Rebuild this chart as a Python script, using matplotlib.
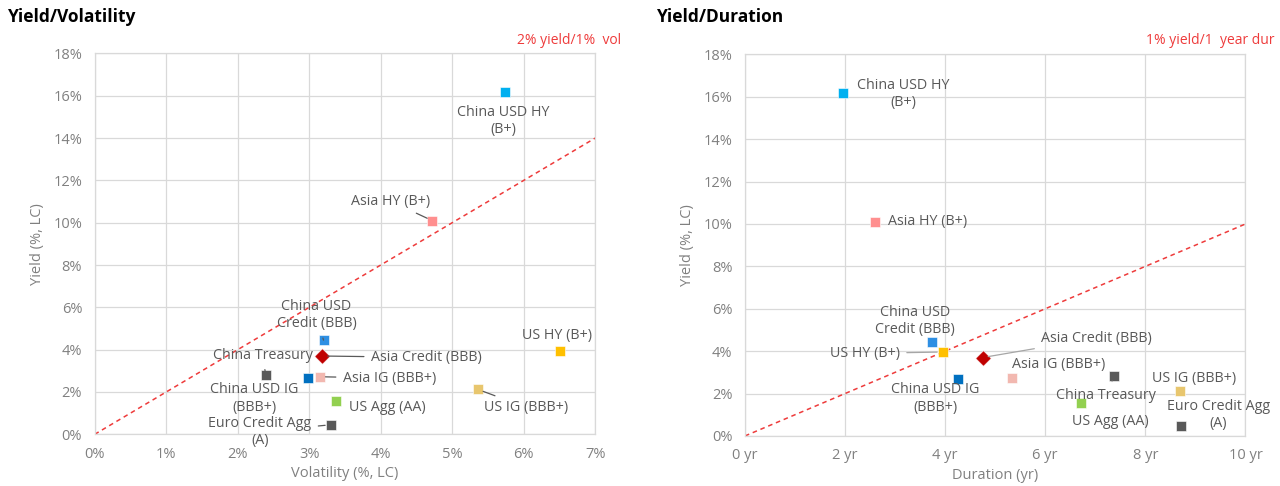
"""Yield vs volatility and yield vs duration scatter for bond indices."""
import matplotlib.pyplot as plt

plt.rcParams['font.family'] = ['Open Sans', 'DejaVu Sans']

assets = ["China USD HY\n(B+)", "Asia HY (B+)", "China USD\nCredit (BBB)",
          "Asia Credit (BBB)", "China USD IG\n(BBB+)", "Asia IG (BBB+)",
          "China Treasury", "US Agg (AA)", "Euro Credit Agg\n(A)",
          "US HY (B+)", "US IG (BBB+)"]
yields = [16.2, 10.1, 4.45, 3.7, 2.68, 2.72, 2.82, 1.55, 0.45, 3.96, 2.12]
volatility = [5.74, 4.72, 3.20, 3.18, 2.99, 3.15, 2.39, 3.38, 3.30, 6.51, 5.36]
duration = [1.95, 2.6, 3.73, 4.75, 4.25, 5.33, 7.38, 6.72, 8.71, 3.95, 8.70]
colors = ['#00B0F0', '#FF8F8F', '#2E8FE3', '#C00000', '#0070C0', '#F2B8B0',
          '#595959', '#92D050', '#595959', '#FFC000', '#E8C66E']
markers = ['s', 's', 's', 'D', 's', 's', 's', 's', 's', 's', 's']

vol_ticks = [0, 1, 2, 3, 4, 5, 6, 7]
dur_ticks = [0, 2, 4, 6, 8, 10]
yield_ticks = [0, 2, 4, 6, 8, 10, 12, 14, 16, 18]

# label offsets in points (dx, dy, leader line?)
vol_labels = [(-1, -21, False), (-30, 14, True), (-5, 18, True), (75, -1, True),
              (-39, -15, False), (50, -1, True), (-2, 14, True), (37, -4, False),
              (-51, -5, True), (-2, 11, False), (35, -13, True)]
dur_labels = [(44, -1, False), (9, 0, False), (-12, 15, False), (82, 14, True),
              (-16, -14, False), (34, 10, False), (-6, -14, True), (21, -13, False),
              (27, 8, False), (-56, -1, True), (10, 9, False)]

GREY = '#595959'
TICK = '#808080'
RED = '#EE3B3B'

fig = plt.figure(figsize=(12.8, 4.86), dpi=100)
ax1 = fig.add_axes([0.074, 0.1064, 0.391, 0.7836])
ax2 = fig.add_axes([0.582, 0.103, 0.391, 0.785])


def draw_panel(ax, xs, labels, xticks, ticklabels, slope, xlabel, line_color):
    ax.plot([xticks[0], xticks[-1]], [0, slope * xticks[-1]], color=RED,
            linestyle=(0, (3, 2.5)), linewidth=1.1, zorder=2)
    for x, y, c, m, name, (dx, dy, lead) in zip(xs, yields, colors, markers,
                                                 assets, labels):
        size = 62 if m == 'D' else 52
        ax.scatter(x, y, s=size, marker=m, color=c, edgecolors='white',
                   linewidths=0.4, zorder=3)
        ha = 'left' if name == 'Asia HY (B+)' and ax is ax2 else 'center'
        props = None
        if lead:
            props = dict(arrowstyle='-', color=line_color, lw=0.9,
                         shrinkA=3, shrinkB=4)
        ax.annotate(name, (x, y), xytext=(dx, dy), textcoords='offset points',
                    ha=ha, va='center', multialignment='center',
                    fontsize=10.3, color=GREY, arrowprops=props, zorder=4)
    ax.set_xlim(xticks[0], xticks[-1])
    ax.set_ylim(0, 18)
    ax.set_xticks(xticks)
    ax.set_xticklabels(ticklabels)
    ax.set_yticks(yield_ticks)
    ax.set_yticklabels([f'{t}%' for t in yield_ticks])
    ax.grid(True, color='#D9D9D9', linewidth=0.9)
    ax.set_axisbelow(True)
    for s in ax.spines.values():
        s.set_color('#D9D9D9')
        s.set_linewidth(0.9)
    ax.tick_params(length=0, labelsize=10.5, labelcolor=TICK, pad=9)
    ax.set_xlabel(xlabel, fontsize=10.5, color=TICK, labelpad=3)
    ax.set_ylabel('Yield (%, LC)', fontsize=10.5, color=TICK, labelpad=6)


draw_panel(ax1, volatility, vol_labels, vol_ticks,
           [f'{t}%' for t in vol_ticks], 2, 'Volatility (%, LC)', '#595959')
draw_panel(ax2, duration, dur_labels, dur_ticks,
           [f'{t} yr' for t in dur_ticks], 1, 'Duration (yr)', '#A6A6A6')

fig.text(8 / 1280, 1 - 17 / 486, 'Yield/Volatility', fontsize=12.5,
         fontweight='bold', ha='left', va='center', color='black')
fig.text(657 / 1280, 1 - 17 / 486, 'Yield/Duration', fontsize=12.5,
         fontweight='bold', ha='left', va='center', color='black')
fig.text(621 / 1280, 1 - 40 / 486, '2% yield/1%  vol', fontsize=10,
         ha='right', va='center', color=RED)
fig.text(1274 / 1280, 1 - 40 / 486, '1% yield/1  year dur', fontsize=10,
         ha='right', va='center', color=RED)

fig.savefig('out.png', dpi=100, facecolor='white')
